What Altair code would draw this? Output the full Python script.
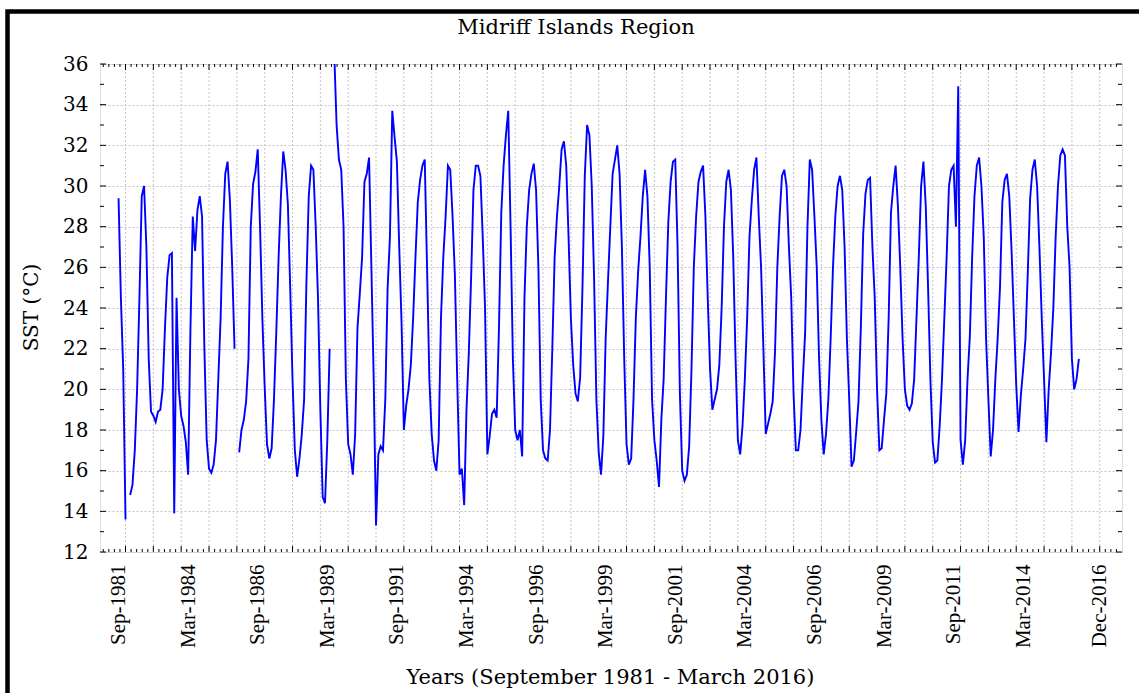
import altair as alt

# ---------------- data (monthly SST, °C; first value = Sep 1981) ----------------
sst_1981 = [29.4, 24.5, 21.0, 13.6]
sst_1982 = [None, 14.8, 15.3, 17.0, 20.0, 24.5, 29.5, 30.0, 27.0, 21.5, 18.9, 18.7]
sst_1983 = [18.4, 18.9, 19.0, 20.0, 23.0, 25.5, 26.6, 26.7, 13.9, 24.5, 20.0, 18.7]
sst_1984 = [18.2, 17.4, 15.8, 23.0, 28.5, 26.8, 28.8, 29.5, 28.5, 22.0, 17.5, 16.1]
sst_1985 = [15.9, 16.3, 17.5, 20.5, 23.5, 28.0, 30.6, 31.2, 29.3, 26.0, 22.0, None]
sst_1986 = [16.9, 18.0, 18.5, 19.4, 21.5, 28.0, 30.1, 30.7, 31.8, 28.0, 23.5, 20.1]
sst_1987 = [17.3, 16.6, 17.1, 19.5, 22.8, 26.5, 29.5, 31.7, 30.8, 29.1, 25.0, 20.5]
sst_1988 = [17.0, 15.7, 16.6, 17.8, 19.5, 25.3, 29.5, 31.0, 30.8, 28.0, 24.4, 19.0]
sst_1989 = [14.7, 14.4, 17.5, 22.0, None, 36.5, 33.0, 31.3, 30.8, 28.0, 20.5, 17.3]
sst_1990 = [16.8, 15.8, 17.8, 23.0, 24.7, 26.5, 30.2, 30.6, 31.4, 26.0, 20.5, 13.3]
sst_1991 = [16.8, 17.2, 17.0, 19.5, 25.0, 27.5, 33.7, 32.4, 31.2, 27.0, 23.3, 18.0]
sst_1992 = [19.2, 20.0, 21.2, 23.5, 26.5, 29.2, 30.3, 31.0, 31.3, 26.0, 20.5, 17.8]
sst_1993 = [16.5, 16.0, 17.5, 23.5, 26.5, 28.5, 31.0, 30.8, 28.5, 25.6, 20.5, 15.8]
sst_1994 = [16.1, 14.3, 19.0, 21.8, 25.5, 29.8, 31.0, 31.0, 30.5, 27.5, 24.0, 16.8]
sst_1995 = [17.7, 18.8, 19.0, 18.6, 23.0, 28.7, 31.0, 32.5, 33.7, 28.0, 21.5, 18.0]
sst_1996 = [17.5, 18.0, 16.7, 24.5, 28.0, 29.8, 30.6, 31.1, 29.8, 26.0, 19.5, 17.0]
sst_1997 = [16.6, 16.5, 18.0, 22.0, 26.5, 28.5, 30.0, 31.8, 32.2, 31.0, 27.5, 23.5]
sst_1998 = [21.2, 19.8, 19.4, 20.6, 25.0, 30.5, 33.0, 32.5, 30.0, 25.5, 19.5, 16.9]
sst_1999 = [15.8, 17.7, 22.5, 25.3, 28.0, 30.6, 31.3, 32.0, 30.6, 27.0, 21.5, 17.3]
sst_2000 = [16.3, 16.6, 19.5, 23.5, 25.8, 27.5, 29.5, 30.8, 29.5, 26.0, 19.5, 17.5]
sst_2001 = [16.5, 15.2, 18.5, 20.5, 24.5, 28.2, 30.2, 31.2, 31.3, 27.0, 19.8, 16.0]
sst_2002 = [15.5, 15.8, 17.2, 21.0, 26.0, 28.5, 30.2, 30.7, 31.0, 28.5, 24.5, 21.0]
sst_2003 = [19.0, 19.5, 20.0, 21.2, 24.0, 28.0, 30.2, 30.8, 29.8, 26.5, 21.5, 17.5]
sst_2004 = [16.8, 18.2, 20.5, 23.5, 27.5, 29.3, 30.8, 31.4, 28.5, 26.0, 22.0, 17.8]
sst_2005 = [18.3, 18.8, 19.4, 21.8, 26.0, 28.5, 30.5, 30.8, 30.0, 27.0, 24.5, 19.8]
sst_2006 = [17.0, 17.0, 18.0, 20.5, 22.8, 28.0, 31.3, 30.8, 28.5, 26.0, 21.5, 18.5]
sst_2007 = [16.8, 17.8, 19.5, 22.5, 26.0, 28.5, 30.0, 30.5, 29.8, 27.0, 22.5, 19.5]
sst_2008 = [16.2, 16.5, 17.9, 19.4, 23.0, 27.6, 29.6, 30.3, 30.4, 27.0, 24.5, 20.0]
sst_2009 = [17.0, 17.1, 18.5, 19.8, 23.5, 28.7, 30.0, 31.0, 29.0, 26.0, 22.5, 20.0]
sst_2010 = [19.2, 19.0, 19.3, 20.5, 23.5, 26.5, 30.0, 31.2, 29.0, 25.0, 20.5, 17.4]
sst_2011 = [16.4, 16.5, 18.2, 20.5, 23.5, 26.5, 30.0, 30.8, 31.0, 28.0, 34.9, 17.5]
sst_2012 = [16.3, 17.5, 20.5, 22.6, 26.5, 29.5, 31.0, 31.4, 30.0, 27.5, 22.5, 19.5]
sst_2013 = [16.7, 18.0, 20.5, 22.5, 25.0, 29.2, 30.3, 30.6, 29.5, 26.8, 23.5, 20.2]
sst_2014 = [17.9, 19.7, 21.0, 22.5, 25.8, 29.4, 30.8, 31.3, 30.0, 27.0, 23.5, 20.5]
sst_2015 = [17.4, 20.0, 21.8, 24.0, 27.5, 30.0, 31.5, 31.8, 31.5, 28.0, 26.0, 21.5]
sst_2016 = [20.0, 20.5, 21.5]

series = [sst_1981, sst_1982, sst_1983, sst_1984, sst_1985, sst_1986, sst_1987,
          sst_1988, sst_1989, sst_1990, sst_1991, sst_1992, sst_1993, sst_1994,
          sst_1995, sst_1996, sst_1997, sst_1998, sst_1999, sst_2000, sst_2001,
          sst_2002, sst_2003, sst_2004, sst_2005, sst_2006, sst_2007, sst_2008,
          sst_2009, sst_2010, sst_2011, sst_2012, sst_2013, sst_2014, sst_2015,
          sst_2016]

# month index m: 0 = Sep 1981
label_months = [0, 30, 60, 90, 120, 150, 180, 210, 240, 270, 300, 330, 360, 390, 423]
grid_months = [3 + 12 * k for k in range(36)]          # December of each year
minor_months = [3 + 2.4 * j for j in range(-4, 180) if j % 5 != 0 and -8 < 3 + 2.4 * j < 432.5]
y_major = list(range(12, 37, 2))
y_minor = list(range(13, 36, 2))

records = []
m = 0
for arr in series:
    for v in arr:
        records.append({"m": m, "sst": v})
        m += 1

W, H = 1022, 488
x_scale = alt.Scale(domain=[-8, 432.6], nice=False, zero=False)
y_scale = alt.Scale(domain=[12, 36], nice=False, zero=False)

SERIF = "DejaVu Serif"
label_expr = ("['Jan','Feb','Mar','Apr','May','Jun','Jul','Aug','Sep','Oct','Nov','Dec']"
              "[(datum.value + 8) % 12] + '-' + (1981 + floor((datum.value + 8) / 12))")

x_axis = alt.Axis(
    values=label_months, labelExpr=label_expr, labelAngle=270,
    labelFont="Liberation Serif", labelFontSize=21, labelColor="black",
    labelPadding=12, labelOverlap=False, labelFlush=False,
    ticks=False, tickSize=0, domain=False, grid=False,
    title="Years (September 1981 - March 2016)", titleFont=SERIF,
    titleFontSize=21, titleFontWeight="normal", titleColor="black",
    titleX=510, titleY=131, titleBaseline="alphabetic", titleAlign="center")

y_axis = alt.Axis(
    values=y_major, labelFont=SERIF, labelFontSize=20, labelColor="black",
    labelPadding=12, ticks=False, tickSize=0, domain=False,
    grid=True, gridDash=[2, 2], gridColor="#c4c4c4", gridWidth=1,
    title="SST (°C)", titleFont=SERIF, titleFontSize=20,
    titleFontWeight="normal", titleColor="black",
    titleX=-63, titleY=243, titleAngle=270, titleBaseline="alphabetic",
    titleAlign="center")


def vals(lst, key):
    return alt.Data(values=[{key: v} for v in lst])


# vertical dotted grid (December of each year)
vgrid = alt.Chart(vals(grid_months, "m")).mark_rule(
    color="#c4c4c4", strokeDash=[2, 2], strokeWidth=1
).encode(
    x=alt.X("m:Q", scale=x_scale, axis=x_axis),
    y=alt.value(0), y2=alt.value(H)
)

line = alt.Chart(alt.Data(values=records)).mark_line(
    color="#0000ff", strokeWidth=1.9, clip=True
).encode(
    x=alt.X("m:Q", scale=x_scale, axis=x_axis),
    y=alt.Y("sst:Q", scale=y_scale, axis=y_axis)
)


def xticks(lst, y0, y1):
    return alt.Chart(vals(lst, "m")).mark_rule(color="black", strokeWidth=1).encode(
        x=alt.X("m:Q", scale=x_scale, axis=x_axis), y=alt.value(y0), y2=alt.value(y1))


def yticks(lst, x0, x1):
    return alt.Chart(vals(lst, "sst")).mark_rule(color="black", strokeWidth=1).encode(
        y=alt.Y("sst:Q", scale=y_scale, axis=y_axis), x=alt.value(x0), x2=alt.value(x1))


ticks = [
    xticks(grid_months, H, H - 6), xticks(minor_months, H, H - 3),
    xticks(grid_months, 0, 6), xticks(minor_months, 0, 3),
    yticks(y_major, 0, 6), yticks(y_minor, 0, 4),
    yticks(y_major, W, W - 6), yticks(y_minor, W, W - 4),
]

outer = alt.Chart(alt.Data(values=[{"f": 1}])).mark_rect(
    filled=False, stroke="black", strokeWidth=4.5
).encode(
    x=alt.value(-92.5), x2=alt.value(1300), y=alt.value(-52.5), y2=alt.value(900)
)

chart = alt.layer(vgrid, line, *ticks, outer).properties(
    width=W, height=H,
    title=alt.TitleParams("Midriff Islands Region", font=SERIF, fontSize=21,
                          fontWeight="normal", color="black", anchor="middle",
                          baseline="alphabetic", dx=-35, offset=-46),
    autosize=alt.AutoSizeParams(type="none"),
    padding={"left": 100, "top": 64, "right": 17, "bottom": 141},
).configure_view(stroke="black", strokeWidth=2).configure(background="white")

chart.save("out.html", embed_options={"renderer": "svg", "actions": False})
